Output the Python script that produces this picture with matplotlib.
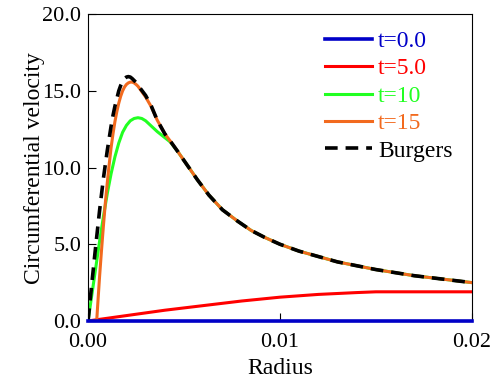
import matplotlib
matplotlib.use('Agg')
import matplotlib.pyplot as plt
from matplotlib.ticker import FormatStrFormatter

plt.rcParams['font.family'] = ['Liberation Serif', 'DejaVu Serif']

# values
r_t0 = [0.0, 0.02]
v_t0 = [0.0, 0.0]

r_t5 = [0.0, 0.002, 0.004, 0.006, 0.008, 0.010, 0.012, 0.014, 0.015, 0.020]
v_t5 = [0.0, 0.35, 0.70, 1.00, 1.30, 1.55, 1.73, 1.85, 1.90, 1.90]

r_burg = [0.0, 0.0001, 0.0002, 0.0003, 0.0004, 0.0005, 0.0006, 0.0007, 0.0008,
          0.0009, 0.0010, 0.0011, 0.0012, 0.0013, 0.0014, 0.0015, 0.0016, 0.0017,
          0.0018, 0.0019, 0.0020, 0.0021, 0.0022, 0.0023, 0.0025, 0.0027, 0.0030,
          0.0033, 0.0036, 0.0040, 0.0043, 0.0047, 0.0052, 0.0057, 0.0063, 0.0070,
          0.0078, 0.0085, 0.0092, 0.0100, 0.0110, 0.0120, 0.0130, 0.0140, 0.0150,
          0.0160, 0.0170, 0.0180, 0.0190, 0.0200]
v_burg = [0.0, 1.25, 2.5, 3.7, 4.9, 6.05, 7.2, 8.25, 9.3,
          10.2, 11.1, 11.9, 12.7, 13.4, 14.0, 14.5, 15.0, 15.35,
          15.6, 15.8, 15.9, 15.93, 15.9, 15.8, 15.55, 15.2, 14.7,
          14.0, 13.1, 12.2, 11.7, 11.0, 10.1, 9.2, 8.2, 7.25,
          6.5, 5.9, 5.45, 5.0, 4.55, 4.2, 3.85, 3.6, 3.35,
          3.15, 2.95, 2.8, 2.65, 2.5]

r_t15 = [0.0, 0.00045, 0.0005, 0.0006, 0.0007, 0.0008, 0.0009, 0.0010, 0.0011,
         0.0012, 0.0013, 0.0014, 0.0015, 0.0016, 0.0017, 0.0018, 0.0019, 0.0020,
         0.0021, 0.0022, 0.0023, 0.0024, 0.0025, 0.0026, 0.0028, 0.0030, 0.0033]
v_t15 = [0.0, 0.0, 1.0, 2.9, 4.6, 6.2, 7.7, 9.0, 10.2,
         11.3, 12.2, 13.0, 13.65, 14.2, 14.65, 15.0, 15.25, 15.42,
         15.52, 15.57, 15.57, 15.52, 15.42, 15.3, 14.95, 14.6, 13.95]

r_t10 = [0.0, 0.0003, 0.0006, 0.0008, 0.0010, 0.0012, 0.0014, 0.0016, 0.0018,
         0.0020, 0.0022, 0.0024, 0.0026, 0.0028, 0.0030, 0.0033, 0.0036, 0.0040,
         0.0043]
v_t10 = [0.0, 2.6, 5.2, 6.8, 8.3, 9.6, 10.7, 11.6, 12.3,
         12.75, 13.05, 13.2, 13.25, 13.2, 13.05, 12.7, 12.35, 11.95,
         11.65]

# beyond their last read point t=10 and t=15 lie on the Burgers curve
r_t15 = r_t15 + [r for r in r_burg if r > r_t15[-1]]
v_t15 = v_t15 + [v for r, v in zip(r_burg, v_burg) if r > 0.0033]
r_t10 = r_t10 + [r for r in r_burg if r > r_t10[-1]]
v_t10 = v_t10 + [v for r, v in zip(r_burg, v_burg) if r > 0.0043]

labels = ['t=0.0', 't=5.0', 't=10', 't=15', 'Burgers']
colors = ['#0000c8', '#ff0000', '#22ff22', '#f26a1e', 'black']

fig = plt.figure(figsize=(4.92, 3.83), dpi=100)
ax = fig.add_axes([0.179, 0.162, 0.780, 0.801])

ax.plot(r_t5, v_t5, color=colors[1], lw=2.2, label=labels[1])
ax.plot(r_t10, v_t10, color=colors[2], lw=2.2, label=labels[2])
ax.plot(r_t15, v_t15, color=colors[3], lw=2.2, label=labels[3])
ax.plot(r_burg, v_burg, color=colors[4], lw=2.6, ls=(0, (3.5, 2.2)), label=labels[4])
ax.plot(r_t0, v_t0, color=colors[0], lw=2.6, label=labels[0], clip_on=False, zorder=5)

ax.set_xlim(0, 0.02)
ax.set_ylim(0, 20)
ax.set_xticks([0, 0.01, 0.02])
ax.set_yticks([0, 5, 10, 15, 20])
ax.xaxis.set_major_formatter(FormatStrFormatter('%.2f'))
ax.yaxis.set_major_formatter(FormatStrFormatter('%.1f'))
ax.tick_params(direction='in', length=6, width=0.8, labelsize=16)
ax.tick_params(axis='x', pad=9)
ax.tick_params(axis='y', pad=5)
ax.set_xlabel('Radius', fontsize=17, labelpad=4)
ax.set_ylabel('Circumferential velocity', fontsize=17, labelpad=-2)

handles, labs = ax.get_legend_handles_labels()
order = [labs.index(l) for l in labels]
leg = ax.legend([handles[i] for i in order], [labs[i] for i in order],
                loc='upper left', frameon=False, fontsize=17,
                handlelength=2.0, handletextpad=0.25, labelspacing=0.25,
                borderaxespad=0.0, borderpad=0.0,
                bbox_to_anchor=(0.617, 0.947))
for txt, c in zip(leg.get_texts(), colors):
    txt.set_color(c)

fig.savefig('out.png', dpi=100)
